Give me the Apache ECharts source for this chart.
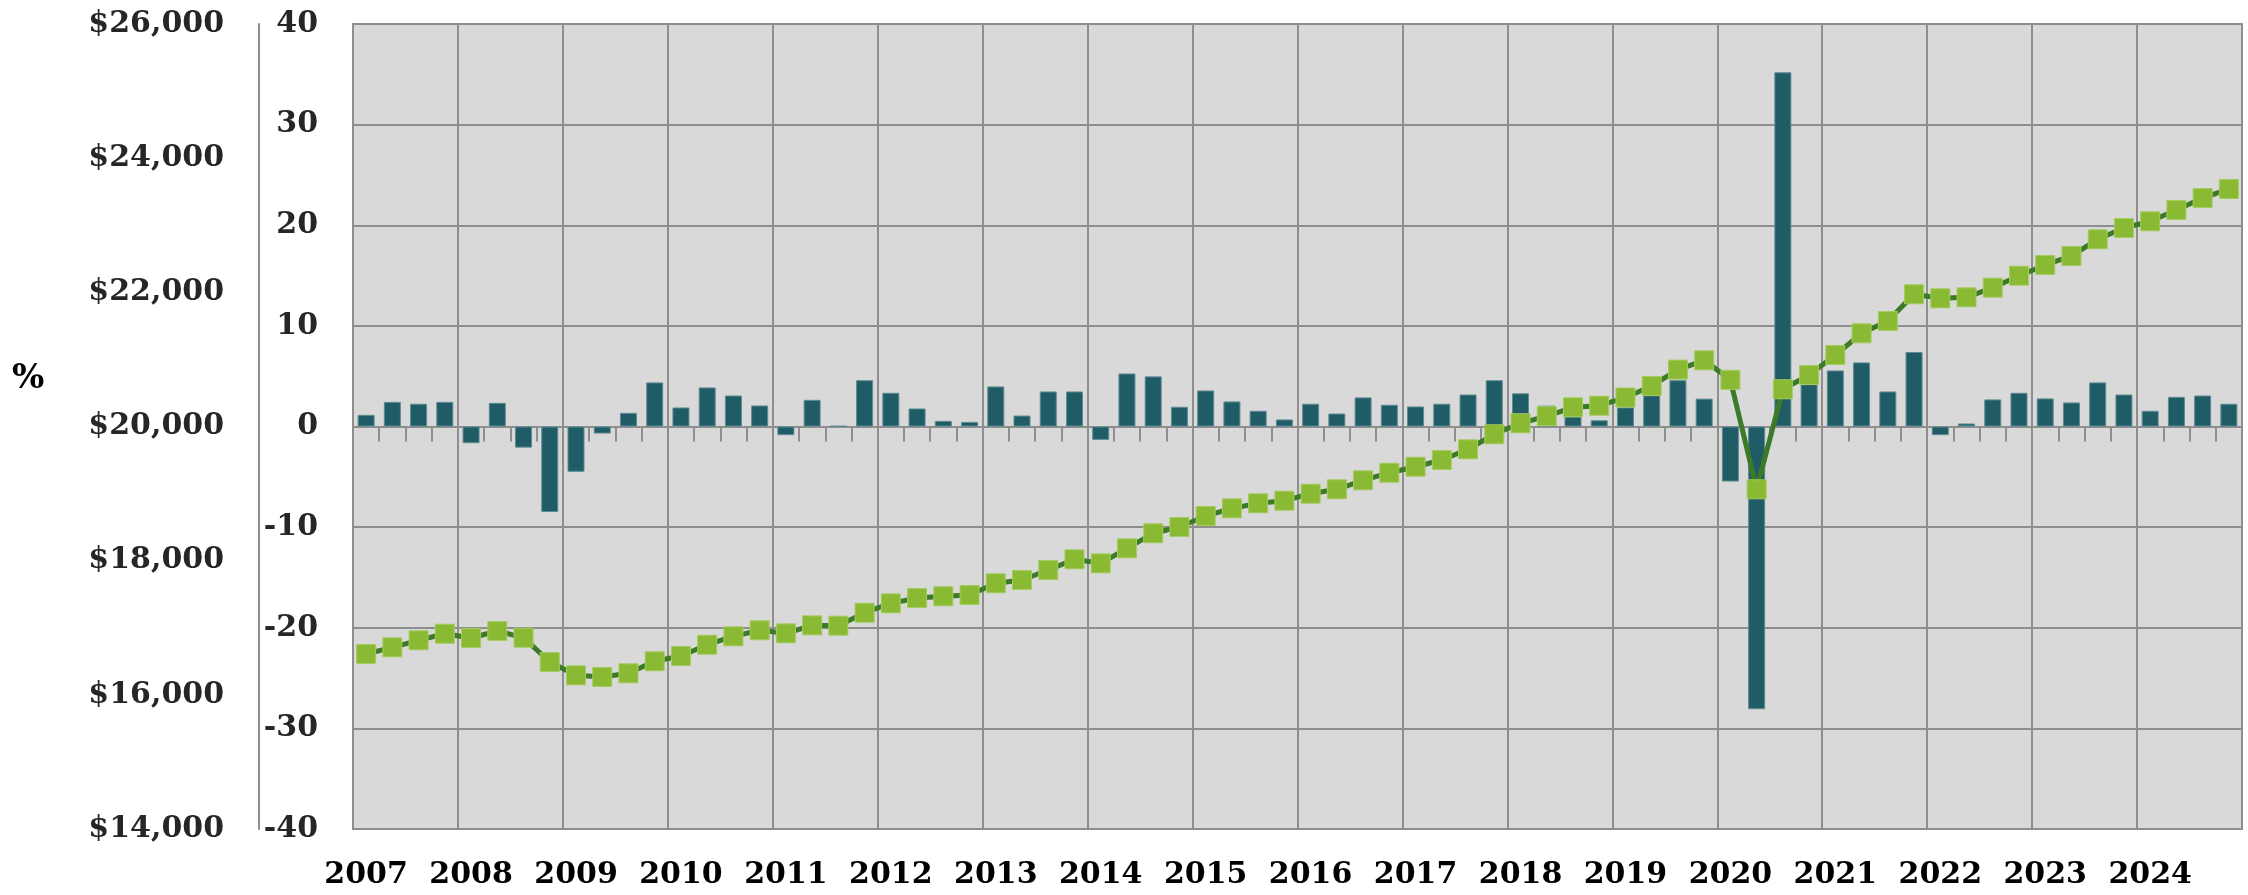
<!DOCTYPE html>
<html>
<head>
<meta charset="utf-8">
<script src="https://cdn.jsdelivr.net/npm/echarts@6/dist/echarts.min.js"></script>
<style>
  html, body { margin: 0; padding: 0; background: #ffffff; }
  #chart { width: 2248px; height: 895px; }
</style>
</head>
<body>
<div id="chart"></div>
<script>
// ---- Data ----
const years = ['2007','2008','2009','2010','2011','2012','2013','2014','2015',
               '2016','2017','2018','2019','2020','2021','2022','2023','2024'];
const quarters = ['Q1','Q2','Q3','Q4'];

// Quarterly % change (bars, % scale)
const pctChange = [
  1.16, 2.45, 2.26, 2.45,     // 2007
  -1.66, 2.35, -2.1, -8.5,    // 2008
  -4.5, -0.7, 1.36, 4.38,     // 2009
  1.89, 3.88, 3.08, 2.09,     // 2010
  -0.86, 2.65, 0.05, 4.6,     // 2011
  3.35, 1.79, 0.56, 0.46,     // 2012
  3.98, 1.09, 3.48, 3.48,     // 2013
  -1.33, 5.27, 4.98, 1.96,    // 2014
  3.58, 2.49, 1.56, 0.70,     // 2015
  2.26, 1.29, 2.89, 2.16,     // 2016
  1.99, 2.26, 3.18, 4.6,      // 2017
  3.3, 2.07, 1.0, 0.62,       // 2018
  1.9, 3.1, 4.6, 2.77,        // 2019
  -5.47, -28.1, 35.2, 4.2,    // 2020
  5.57, 6.37, 3.48, 7.4,      // 2021
  -0.86, 0.3, 2.69, 3.35,     // 2022
  2.79, 2.39, 4.38, 3.18,     // 2023
  1.56, 2.95, 3.08, 2.26      // 2024
];

// Quarterly dollar level (line, $ scale)
const dollarLevel = [
  16609, 16708, 16813, 16911,  // 2007
  16847, 16951, 16852, 16489,  // 2008
  16291, 16266, 16321, 16500,  // 2009
  16579, 16747, 16872, 16962,  // 2010
  16917, 17036, 17031, 17224,  // 2011
  17364, 17443, 17469, 17488,  // 2012
  17663, 17712, 17861, 18020,  // 2013
  17960, 18184, 18408, 18502,  // 2014
  18666, 18780, 18855, 18894,  // 2015
  18998, 19064, 19198, 19311,  // 2016
  19400, 19501, 19660, 19884,  // 2017
  20048, 20155, 20286, 20310,  // 2018
  20432, 20604, 20848, 20986,  // 2019
  20696, 19064, 20555, 20768,  // 2020
  21066, 21389, 21573, 21971,  // 2021
  21911, 21926, 22069, 22248,  // 2022
  22408, 22542, 22791, 22959,  // 2023
  23059, 23227, 23406, 23541   // 2024
];

const pctTicks = { min: -40, max: 40, interval: 10 };
const dollarTicks = { min: 14000, max: 26000, interval: 2000 };

// Category labels (one per quarter)
const categories = [];
years.forEach(y => quarters.forEach(q => categories.push(y + ' ' + q)));

// ---- Chart ----
const gridGray = '#8e8e8e';
const labelFont = 'DejaVu Serif';

const chart = echarts.init(document.getElementById('chart'), null, { renderer: 'canvas' });

chart.setOption({
  animation: false,
  backgroundColor: '#ffffff',
  grid: {
    left: 353, right: 6, top: 24, bottom: 66,
    show: true,
    backgroundColor: '#d9d9d9',
    borderColor: gridGray,
    borderWidth: 2
  },
  xAxis: [
    {
      type: 'category',
      data: categories,
      position: 'bottom',
      boundaryGap: true,
      axisLine: { show: false, onZero: false },
      axisTick: { show: false },
      axisLabel: {
        interval: 3,
        margin: 31,
        formatter: v => v.split(' ')[0],
        fontFamily: labelFont,
        fontWeight: 'bold',
        fontSize: 30,
        color: '#000000'
      },
      splitLine: { show: true, interval: 3, lineStyle: { color: gridGray, width: 2 } }
    },
    {
      type: 'category',
      data: categories,
      position: 'top',
      boundaryGap: true,
      axisLine: { show: true, onZero: true, onZeroAxisIndex: 0, lineStyle: { color: gridGray, width: 2 } },
      axisTick: { show: true, inside: true, interval: 0, length: 15, lineStyle: { color: gridGray, width: 2 } },
      axisLabel: { show: false },
      splitLine: { show: false }
    }
  ],
  yAxis: [
    {
      type: 'value',
      position: 'left',
      min: pctTicks.min, max: pctTicks.max, interval: pctTicks.interval,
      axisLine: { show: false },
      axisTick: { show: false },
      axisLabel: {
        margin: 35,
        fontFamily: labelFont, fontWeight: 'bold', fontSize: 30, color: '#262626'
      },
      splitLine: { show: true, lineStyle: { color: gridGray, width: 2 } }
    },
    {
      type: 'value',
      position: 'left',
      offset: 94,
      min: dollarTicks.min, max: dollarTicks.max, interval: dollarTicks.interval,
      axisLine: { show: true, lineStyle: { color: gridGray, width: 2 } },
      axisTick: { show: false },
      axisLabel: {
        margin: 35,
        formatter: v => '$' + v.toLocaleString('en-US'),
        fontFamily: labelFont, fontWeight: 'bold', fontSize: 30, color: '#262626'
      },
      splitLine: { show: false }
    }
  ],
  graphic: [
    {
      type: 'text',
      left: 12,
      top: 362,
      style: {
        text: '%',
        font: 'bold 34px "DejaVu Serif"',
        fill: '#000000'
      }
    }
  ],
  series: [
    {
      name: '% change',
      type: 'bar',
      xAxisIndex: 0,
      yAxisIndex: 0,
      data: pctChange,
      barWidth: 17,
      itemStyle: { color: '#1f5c66', borderColor: '#5d8b92', borderWidth: 1 },
      z: 2
    },
    {
      name: 'Level',
      type: 'line',
      xAxisIndex: 0,
      yAxisIndex: 1,
      data: dollarLevel,
      smooth: false,
      showAllSymbol: true,
      symbol: 'rect',
      symbolSize: 19,
      lineStyle: { color: '#3b7a26', width: 5 },
      itemStyle: { color: '#8ab934', borderColor: '#a5cc5e', borderWidth: 1 },
      z: 3
    }
  ]
});
</script>
</body>
</html>
